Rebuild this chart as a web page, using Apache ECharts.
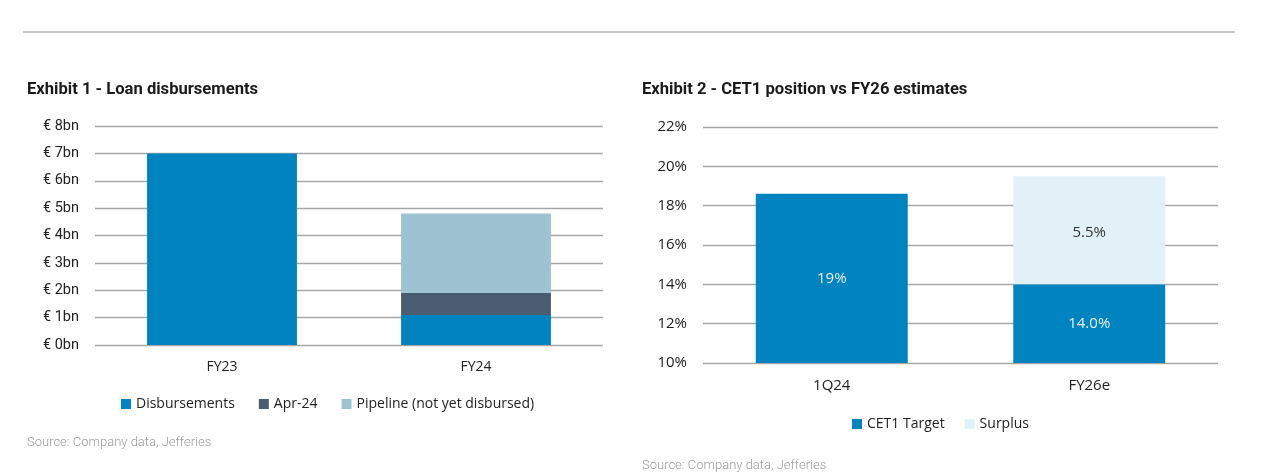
<!DOCTYPE html>
<html><head><meta charset="utf-8">
<script src="https://cdn.jsdelivr.net/npm/echarts@6/dist/echarts.min.js"></script>
<style>html,body{margin:0;padding:0;background:#fff}#c{width:1277px;height:475px}</style>
</head><body><div id="c"></div>
<script>
// Exhibit 1 data
const loanCategories = ['FY23', 'FY24'];
const disbursements = [7.0, 1.1];
const apr24 = [null, 0.8];
const pipeline = [null, 2.9];
const loanTicks = ['€ 0bn','€ 1bn','€ 2bn','€ 3bn','€ 4bn','€ 5bn','€ 6bn','€ 7bn','€ 8bn'];

// Exhibit 2 data
const cetCategories = ['1Q24', 'FY26e'];
const cet1Target = [18.6, 14.0];
const surplus = [null, 5.5];
const cet1Labels = ['19%', '14.0%'];
const surplusLabels = ['', '5.5%'];
const cetTicks = ['10%','12%','14%','16%','18%','20%','22%'];

const ROBOTO = 'Roboto, "Noto Sans", sans-serif';
const OPEN = '"Open Sans", "Noto Sans", sans-serif';
const grid = { lineStyle: { color: '#a6a6a6', width: 1.3 } };

const chart = echarts.init(document.getElementById('c'), null, { renderer: 'canvas' });
chart.setOption({
  animation: false,
  textStyle: { fontFamily: OPEN, color: '#222' },
  title: [
    { text: 'Exhibit 1 - Loan disbursements', left: 22, top: 76, textStyle: { fontSize: 16.6, fontWeight: 'bold', color: '#1a1a1a', fontFamily: ROBOTO } },
    { text: 'Exhibit 2 - CET1 position vs FY26 estimates', left: 637, top: 76, textStyle: { fontSize: 16.6, fontWeight: 'bold', color: '#1a1a1a', fontFamily: ROBOTO } }
  ],
  graphic: [
    { type: 'line', shape: { x1: 23, y1: 32, x2: 1235, y2: 32 }, style: { stroke: '#b4b8bd', lineWidth: 1.5 } },
    { type: 'text', left: 27, top: 436, style: { text: 'Source: Company data, Jefferies', fill: '#9a9a9a', font: '300 13px Roboto, sans-serif' } },
    { type: 'text', left: 642, top: 459, style: { text: 'Source: Company data, Jefferies', fill: '#9a9a9a', font: '300 13px Roboto, sans-serif' } }
  ],
  legend: [
    { data: ['Disbursements', 'Apr-24', 'Pipeline (not yet disbursed)'], left: 116, top: 392, itemWidth: 10, itemHeight: 10, itemGap: 24, icon: 'rect',
      textStyle: { fontSize: 14, color: '#222', fontFamily: OPEN } },
    { data: ['CET1 Target', 'Surplus'], left: 847, top: 412, itemWidth: 10, itemHeight: 10, itemGap: 20, icon: 'rect',
      textStyle: { fontSize: 14, color: '#222', fontFamily: OPEN } }
  ],
  grid: [
    { left: 95, right: 674, top: 126, bottom: 130 },
    { left: 703, right: 59, top: 127, bottom: 112 }
  ],
  xAxis: [
    { type: 'category', gridIndex: 0, data: loanCategories, axisLine: { show: false }, axisTick: { show: false },
      axisLabel: { fontSize: 14, color: '#222', margin: 15, fontFamily: OPEN } },
    { type: 'category', gridIndex: 1, data: cetCategories, axisLine: { show: false }, axisTick: { show: false },
      axisLabel: { fontSize: 15, color: '#222', margin: 15, fontFamily: OPEN } }
  ],
  yAxis: [
    { type: 'value', gridIndex: 0, min: 0, max: 8, interval: 1, splitLine: grid, axisLine: { show: false }, axisTick: { show: false },
      axisLabel: { fontSize: 14.5, color: '#222', margin: 16, fontFamily: ROBOTO, formatter: v => loanTicks[Math.round(v)] } },
    { type: 'value', gridIndex: 1, min: 10, max: 22, interval: 2, splitLine: grid, axisLine: { show: false }, axisTick: { show: false },
      axisLabel: { fontSize: 15, color: '#222', margin: 16, fontFamily: OPEN, formatter: v => cetTicks[Math.round((v - 10) / 2)] } }
  ],
  series: [
    { name: 'Disbursements', type: 'bar', stack: 'loan', xAxisIndex: 0, yAxisIndex: 0, data: disbursements, barWidth: '59%', itemStyle: { color: '#0083bf' } },
    { name: 'Apr-24', type: 'bar', stack: 'loan', xAxisIndex: 0, yAxisIndex: 0, data: apr24, barWidth: '59%', itemStyle: { color: '#4a5d70' } },
    { name: 'Pipeline (not yet disbursed)', type: 'bar', stack: 'loan', xAxisIndex: 0, yAxisIndex: 0, data: pipeline, barWidth: '59%', itemStyle: { color: '#9dc2d2' } },
    { name: 'CET1 Target', type: 'bar', stack: 'cet', xAxisIndex: 1, yAxisIndex: 1, data: cet1Target, barWidth: '59%', itemStyle: { color: '#0083bf' },
      label: { show: true, position: 'inside', fontSize: 15, fontFamily: OPEN, color: '#e6f0f7', formatter: p => cet1Labels[p.dataIndex] } },
    { name: 'Surplus', type: 'bar', stack: 'cet', xAxisIndex: 1, yAxisIndex: 1, data: surplus, barWidth: '59%', itemStyle: { color: '#e2f0f8' },
      label: { show: true, position: 'inside', offset: [0, 2], fontSize: 15, fontFamily: OPEN, color: '#333', formatter: p => surplusLabels[p.dataIndex] } }
  ]
});
</script></body></html>
